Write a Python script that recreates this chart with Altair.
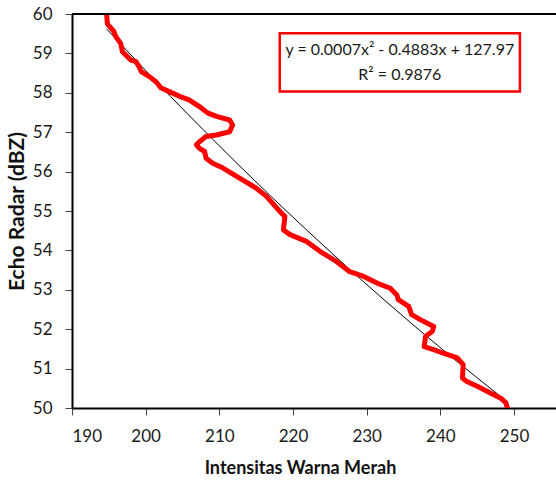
import altair as alt
import pandas as pd

# Red colour intensity vs radar echo, traced profile
intensitas = [194.7, 194.8, 195.7, 195.95, 196.6, 196.85, 198.0, 198.7, 199.1, 199.4,
              200.5, 201.4, 202.1, 203.2, 204.6, 205.9, 207.3, 208.4, 209.6, 211.4,
              211.8, 211.4, 209.6, 208.2, 207.3, 206.9, 207.3, 208.0, 208.2, 209.1,
              210.5, 212.8, 215.0, 216.4, 218.2, 218.9, 218.7, 219.6, 221.8, 223.7,
              225.9, 227.7, 229.6, 231.4, 233.2, 234.1, 234.3, 235.7, 236.1, 237.7,
              239.1, 238.9, 238.0, 237.8, 239.1, 240.4, 242.3, 243.1, 243.0, 243.6,
              245.0, 246.8, 248.2, 248.9, 249.1]
echo_dbz = [60.0, 59.75, 59.55, 59.42, 59.26, 59.04, 58.83, 58.79, 58.66, 58.54,
            58.41, 58.28, 58.12, 58.03, 57.91, 57.82, 57.65, 57.49, 57.40, 57.31,
            57.18, 57.01, 56.93, 56.89, 56.76, 56.68, 56.59, 56.51, 56.34, 56.21,
            56.09, 55.83, 55.58, 55.37, 54.99, 54.86, 54.52, 54.40, 54.23, 53.97,
            53.72, 53.46, 53.34, 53.17, 53.04, 52.87, 52.75, 52.58, 52.37, 52.20,
            52.07, 51.94, 51.82, 51.56, 51.48, 51.39, 51.27, 51.10, 50.76, 50.67,
            50.55, 50.38, 50.25, 50.13, 50.0]

x_ticks = [190, 200, 210, 220, 230, 240, 250]
y_ticks = [50, 51, 52, 53, 54, 55, 56, 57, 58, 59, 60]
persamaan = ["y = 0.0007x\u00b2 - 0.4883x + 127.97", "R\u00b2 = 0.9876"]

df = pd.DataFrame({"urut": range(len(intensitas)), "x": intensitas, "y": echo_dbz})
FONT = "Lato"

x_scale = alt.Scale(domain=[190, 255.7], nice=False, zero=False)
y_scale = alt.Scale(domain=[50, 60], nice=False, zero=False)

x_axis = alt.Axis(
    values=x_ticks, grid=False, domainColor="black", domainWidth=2,
    tickColor="#444", tickSize=7, labelFontSize=17, labelFont=FONT, labelColor="#1a1a1a",
    labelPadding=13, labelOverlap=False, title="Intensitas Warna Merah", titleFont=FONT,
    titleFontSize=18, titleFontWeight="bold", titleColor="#111", titleX=228, titleY=60,
    titleBaseline="middle", titleAlign="center",
)
y_axis = alt.Axis(
    values=y_ticks, grid=False, domainColor="black", domainWidth=2,
    tickColor="#444", tickSize=7, labelFontSize=17, labelFont=FONT, labelColor="#1a1a1a",
    labelPadding=13, labelOverlap=False, labelFlush=False, title="Echo Radar (dBZ)",
    titleFont=FONT, titleFontSize=21, titleFontWeight="bold", titleColor="#111",
    titleX=-55, titleY=197, titleAngle=-90, titleBaseline="middle", titleAlign="center",
)


def sx(field):
    return alt.X(field, scale=x_scale, axis=x_axis)


def sy(field):
    return alt.Y(field, scale=y_scale, axis=y_axis)


base = alt.Chart(df)

garis = base.mark_line(color="#FF0000", strokeWidth=5, strokeJoin="round",
                       strokeCap="round", clip=True).encode(
    x=sx("x:Q"), y=sy("y:Q"), order="urut:Q",
)

# Second-order polynomial trend line fitted to the profile
tren = base.transform_regression("x", "y", method="poly", order=2).mark_line(
    color="black", strokeWidth=1, clip=True
).encode(x=sx("x:Q"), y=sy("y:Q"))

kotak_df = pd.DataFrame({"x1": [218.2], "x2": [250.8], "y1": [59.51], "y2": [58.03],
                         "atas": [60.0]})
kotak = alt.Chart(kotak_df).mark_rect(fill="white", stroke="#FF0000", strokeWidth=2.5).encode(
    x=sx("x1:Q"), x2="x2:Q", y=sy("y1:Q"), y2="y2:Q"
)

teks_df = pd.DataFrame({"x": [234.5, 234.5], "y": [59.09, 58.45], "t": persamaan})
teks = alt.Chart(teks_df).mark_text(font=FONT, fontSize=16, color="#1a1a1a",
                                    baseline="middle", align="center").encode(
    x=sx("x:Q"), y=sy("y:Q"), text="t:N"
)

# Top frame line of the plot area
batas_atas = alt.Chart(kotak_df).mark_rule(color="black", strokeWidth=2).encode(
    y=sy("atas:Q")
)

chart = alt.layer(tren, garis, batas_atas, kotak, teks).properties(
    width=484, height=394,
    autosize=alt.AutoSizeParams(type="none"),
    padding={"left": 72, "top": 14, "right": 0, "bottom": 74},
    background="white",
).configure_view(stroke=None)

chart.save("out.html", embed_options={"renderer": "svg", "actions": False})
